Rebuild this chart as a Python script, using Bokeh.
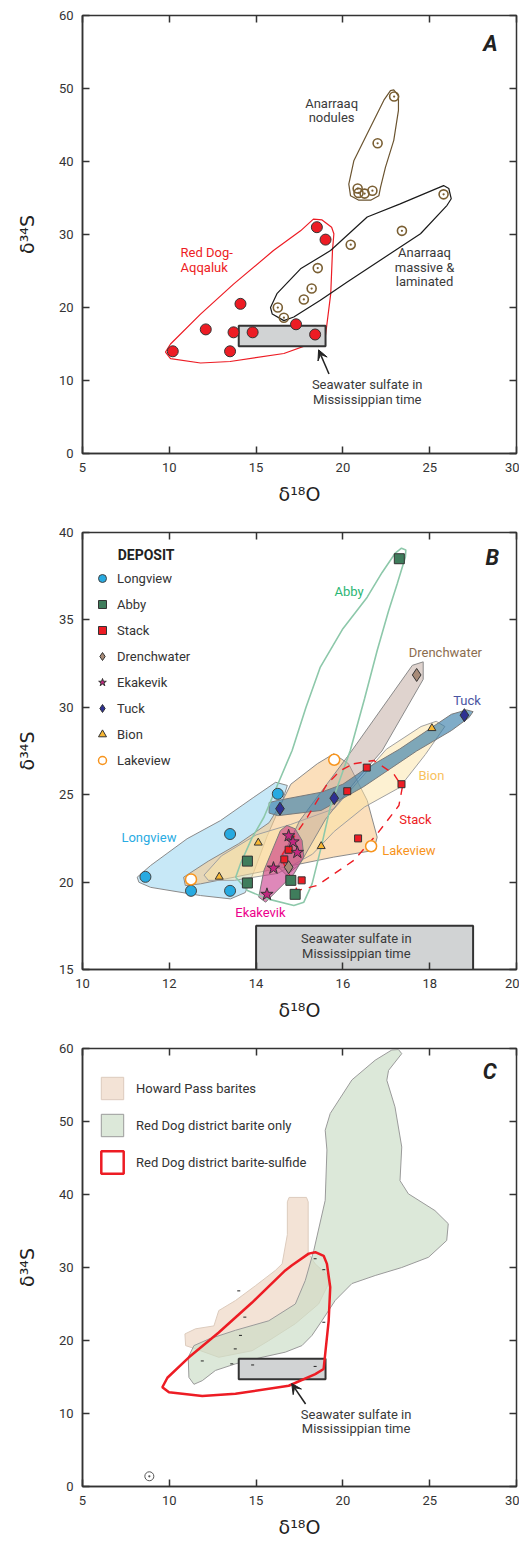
from bokeh.plotting import figure
from bokeh.layouts import column
from bokeh.models import Range1d, LinearAxis, Legend, LegendItem, Arrow, VeeHead
from bokeh.core.properties import value
from bokeh.embed import file_html
from bokeh.resources import INLINE

# ---------------- Panel A data ----------------
reddog_x = [10.2, 12.1, 13.5, 13.7, 14.1, 14.8, 17.3, 18.4, 18.5, 19.0]
reddog_y = [14.0, 17.0, 14.0, 16.6, 20.5, 16.6, 17.7, 16.3, 31.0, 29.3]
nodules_x = [22.95, 22.0, 20.85, 20.9, 21.25, 21.7]
nodules_y = [48.9, 42.5, 36.3, 35.7, 35.6, 36.0]
massive_x = [25.8, 23.4, 20.45, 18.55, 18.2, 17.75, 16.25, 16.6]
massive_y = [35.5, 30.5, 28.6, 25.4, 22.6, 21.1, 20.0, 18.6]
seawater_x = [14.0, 19.0]
seawater_y = [14.7, 17.5]

reddog_env_x = [18.8, 19.35, 19.48, 19.4, 19.3, 19.0, 18.7, 16.6, 13.5, 11.8, 10.07, 9.78, 10.07, 11.8, 13.7, 16.0, 17.56, 18.3]
reddog_env_y = [32.0, 31.0, 30.1, 27.8, 21.9, 16.2, 15.5, 13.7, 12.6, 12.4, 13.0, 13.9, 15.0, 19.1, 23.2, 27.8, 30.5, 32.1]
massive_env_x = [15.83, 16.2, 17.56, 19.29, 21.4, 23.3, 25.8, 26.1, 26.24, 26.0, 24.47, 20.25, 18.7, 17.17, 16.6, 15.93]
massive_env_y = [20.0, 21.9, 25.3, 27.8, 32.4, 34.2, 36.7, 36.3, 34.9, 34.0, 30.1, 23.5, 21.0, 18.7, 18.2, 19.1]
nodules_env_x = [22.93, 23.2, 23.2, 22.93, 22.45, 22.17, 22.07, 21.6, 20.92, 20.44, 20.34, 20.63, 21.4, 22.36, 22.74]
nodules_env_y = [49.8, 49.0, 47.0, 42.9, 39.2, 36.5, 35.3, 34.7, 34.7, 35.3, 36.9, 40.1, 43.8, 48.4, 49.7]

# ---------------- Panel B data ----------------
deposits = ["Longview", "Abby", "Stack", "Drenchwater", "Ekakevik", "Tuck", "Bion", "Lakeview"]
longview_x = [11.45, 12.5, 13.4, 13.4, 14.5]
longview_y = [20.3, 19.5, 19.5, 22.75, 25.05]
abby_x = [17.3, 13.8, 13.8, 14.8, 14.9]
abby_y = [38.5, 21.2, 19.95, 20.1, 19.3]
stack_x = [16.55, 16.1, 17.35, 16.35, 15.05, 14.75, 14.65]
stack_y = [26.55, 25.2, 25.6, 22.5, 20.1, 21.85, 21.3]
drench_x = [17.7, 14.75]
drench_y = [31.85, 20.85]
ekak_x = [14.75, 14.95, 14.4, 14.25, 14.85]
ekak_y = [22.65, 21.7, 20.8, 19.3, 22.3]
tuck_x = [18.8, 14.55, 15.8]
tuck_y = [29.55, 24.2, 24.8]
bion_x = [18.05, 14.05, 13.15, 15.5]
bion_y = [28.8, 22.25, 20.3, 22.05]
lake_x = [15.8, 12.5, 16.65]
lake_y = [27.0, 20.15, 22.05]

longview_env_x = [11.26, 11.57, 12.41, 13.18, 13.95, 14.45, 14.72, 14.6, 14.25, 13.95, 13.75, 13.41, 12.72, 11.57, 11.3]
longview_env_y = [20.28, 20.95, 22.48, 23.52, 24.86, 25.71, 25.53, 24.6, 22.6, 20.6, 19.4, 19.04, 19.23, 19.7, 19.99]
lake_env_x = [15.79, 16.13, 16.56, 16.79, 16.71, 15.79, 14.26, 12.72, 12.37, 12.33, 12.9, 13.6, 14.3, 14.6, 14.8, 15.41]
lake_env_y = [27.34, 26.77, 24.67, 22.57, 21.81, 21.43, 20.66, 19.9, 19.8, 20.28, 21.2, 22.2, 23.4, 24.6, 25.6, 26.77]
bion_env_x = [12.8, 13.2, 14.0, 14.8, 15.8, 17.0, 17.8, 18.15, 18.35, 17.9, 17.3, 16.5, 15.8, 15.3, 14.5, 13.5, 12.9]
bion_env_y = [20.4, 21.5, 22.7, 23.3, 24.2, 27.6, 28.9, 29.2, 28.9, 27.3, 25.4, 24.3, 22.9, 21.6, 20.5, 20.1, 20.1]
drench_env_x = [17.85, 17.85, 16.9, 16.3, 15.6, 15.0, 14.7, 14.5, 15.0, 16.2, 17.6]
drench_env_y = [32.6, 31.6, 27.5, 25.8, 23.6, 21.0, 20.4, 20.9, 23.5, 27.5, 32.4]
tuck_env_x = [14.3, 14.5, 15.5, 16.0, 16.46, 17.3, 18.5, 18.85, 19.0, 18.9, 18.5, 17.7, 16.46, 15.5, 14.5, 14.3]
tuck_env_y = [24.55, 24.67, 25.14, 25.6, 26.38, 27.6, 29.6, 29.85, 29.75, 29.4, 28.67, 27.5, 25.43, 24.1, 23.8, 23.95]
ekak_env_x = [14.71, 14.9, 15.06, 15.1, 14.87, 14.41, 14.22, 14.06, 14.18, 14.37, 14.56]
ekak_env_y = [23.24, 23.05, 22.38, 21.43, 20.47, 19.33, 18.85, 19.14, 20.66, 21.81, 22.95]
abby_env_x = [17.45, 17.35, 17.2, 16.9, 16.56, 16.0, 15.48, 15.15, 14.83, 14.5, 14.18, 13.9, 13.64, 13.53, 13.8, 14.26, 14.87, 15.1, 15.29, 15.5, 15.71, 15.95, 16.17, 16.5, 16.79, 17.05, 17.25, 17.44]
abby_env_y = [39.0, 39.1, 38.8, 37.7, 36.3, 34.5, 32.3, 30.0, 27.53, 25.6, 23.71, 22.5, 21.05, 20.28, 19.52, 19.04, 18.66, 18.85, 19.9, 22.0, 24.29, 26.0, 27.53, 30.5, 33.25, 35.5, 37.06, 38.6]
stack_env_x = [16.25, 16.71, 17.17, 17.37, 17.29, 16.79, 16.25, 15.41, 14.95, 14.56, 15.18, 15.64, 15.94, 16.25]
stack_env_y = [26.77, 26.96, 26.19, 25.43, 24.38, 22.76, 21.24, 19.81, 19.52, 21.43, 23.71, 25.62, 26.38, 26.77]

# ---------------- Panel C data ----------------
howard_env_x = [16.9, 17.9, 18.0, 18.0, 18.4, 19.1, 19.18, 18.6, 17.26, 15.73, 14.77, 12.85, 11.51, 10.94, 10.9, 11.51, 12.57, 12.85, 13.81, 14.96, 16.11, 16.5, 16.8, 16.8]
howard_env_y = [39.6, 39.6, 39.0, 32.0, 30.5, 29.0, 27.8, 25.0, 22.3, 19.98, 18.6, 17.7, 18.85, 19.3, 20.9, 21.6, 22.0, 24.1, 25.47, 27.5, 29.6, 30.5, 34.5, 39.0]
barite_env_x = [23.2, 23.39, 22.63, 22.53, 23.0, 23.39, 23.29, 23.77, 25.3, 26.07, 25.98, 24.93, 23.39, 21.86, 20.52, 19.56, 18.79, 18.22, 17.64, 16.68, 15.34, 13.81, 12.66, 11.9, 11.42, 11.13, 11.09, 11.42, 12.28, 13.81, 15.73, 17.26, 17.83, 18.32, 18.98, 19.08, 18.98, 19.27, 20.52, 21.86, 22.82]
barite_env_y = [59.86, 59.3, 57.0, 55.65, 52.0, 46.5, 41.9, 40.1, 37.8, 36.0, 33.7, 31.4, 30.0, 28.9, 27.8, 25.5, 22.7, 20.7, 19.3, 18.4, 17.7, 16.8, 15.9, 14.5, 14.0, 14.95, 17.7, 19.3, 20.2, 21.4, 22.7, 25.0, 28.2, 32.3, 39.2, 46.1, 48.8, 51.1, 55.7, 58.4, 59.8]
sulfide_env_x = [18.41, 18.89, 19.08, 19.27, 19.18, 18.89, 18.41, 16.88, 13.81, 11.9, 9.98, 9.6, 9.89, 11.13, 12.85, 14.77, 16.68, 17.07, 18.03]
sulfide_env_y = [32.1, 31.6, 30.5, 27.3, 22.7, 16.1, 15.4, 13.8, 12.7, 12.4, 12.9, 13.6, 14.9, 17.7, 21.1, 25.2, 29.6, 30.3, 31.9]
cdots_x = [14.0, 14.35, 14.1, 13.8, 11.9, 13.6, 14.8, 18.4, 18.9, 18.4, 18.9]
cdots_y = [26.8, 23.2, 20.7, 18.85, 17.2, 16.8, 16.65, 16.45, 22.5, 31.2, 29.7]
ref_x = [8.85]
ref_y = [1.4]

xt_wide = [5, 10, 15, 20, 25, 30]
yt_wide = [0, 10, 20, 30, 40, 50, 60]
xt_b = [10, 12, 14, 16, 18, 20]
yt_b = [15, 20, 25, 30, 35, 40]

FONT = "Roboto"
AX = "#333333"
TXT = "#3a3a3a"
RED = "#ed1c24"


def base(x0, x1, y0, y1, xt, yt, h, mt, mb):
    p = figure(width=519, height=h, x_range=Range1d(x0, x1), y_range=Range1d(y0, y1),
               output_backend="svg", toolbar_location=None,
               min_border_left=82, min_border_right=3, min_border_top=mt, min_border_bottom=mb)
    p.grid.visible = False
    p.outline_line_color = AX
    p.outline_line_width = 1.5
    p.background_fill_color = "white"
    xa = p.xaxis[0]
    ya = p.yaxis[0]
    xa.ticker = xt
    ya.ticker = yt
    for ax in (xa, ya):
        ax.major_tick_in = 7
        ax.major_tick_out = 0
        ax.minor_tick_line_color = None
        ax.major_tick_line_color = AX
        ax.major_tick_line_width = 1.5
        ax.axis_line_color = AX
        ax.axis_line_width = 1.5
        ax.major_label_text_font = FONT
        ax.major_label_text_font_size = "13px"
        ax.major_label_text_color = "#333333"
        ax.axis_label_text_font = "DejaVu Sans"
        ax.axis_label_text_font_size = "19px"
        ax.axis_label_text_font_style = "normal"
        ax.axis_label_text_color = "#222222"
    xa.axis_label = "δ¹⁸O"
    ya.axis_label = "δ³⁴S"
    xa.major_label_standoff = 9
    xa.axis_label_standoff = 8
    ya.major_label_standoff = 9
    ya.axis_label_standoff = 18
    top = LinearAxis(ticker=xt, major_label_overrides={t: "" for t in xt})
    right = LinearAxis(ticker=yt, major_label_overrides={t: "" for t in yt})
    for ax in (top, right):
        ax.major_tick_in = 7
        ax.major_tick_out = 0
        ax.minor_tick_line_color = None
        ax.major_tick_line_color = AX
        ax.major_tick_line_width = 1.5
        ax.axis_line_color = None
        ax.major_label_standoff = 0
    p.add_layout(top, "above")
    p.add_layout(right, "right")
    return p


def txt(p, x, ys, lines, color, align="center", size="13px", style="normal"):
    p.text(x=[x] * len(lines), y=ys, text=lines, text_color=color, text_align=align,
           text_baseline="middle", text_font=value(FONT), text_font_size=value(size),
           text_font_style=style)


# ================= Panel A =================
pa = base(5, 30, 0, 60, xt_wide, yt_wide, 525, 15, 72)
pa.patch(reddog_env_x, reddog_env_y, fill_color=None, line_color=RED, line_width=1.2)
pa.patch(massive_env_x, massive_env_y, fill_color=None, line_color="#1a1a1a", line_width=1.2)
pa.patch(nodules_env_x, nodules_env_y, fill_color=None, line_color="#6b5430", line_width=1.2)
pa.quad(left=[seawater_x[0]], right=[seawater_x[1]], bottom=[seawater_y[0]], top=[seawater_y[1]],
        fill_color="#d1d3d4", line_color="#333333", line_width=2)
pa.scatter(reddog_x, reddog_y, marker="circle", size=11, fill_color=RED, line_color="#333333", line_width=1)
pa.scatter(nodules_x, nodules_y, marker="circle_dot", size=9, fill_color=None, line_color="#7a5f33", line_width=1.6)
pa.scatter(massive_x, massive_y, marker="circle_dot", size=9, fill_color=None, line_color="#7a5f33", line_width=1.6)
pa.add_layout(Arrow(end=VeeHead(size=10, fill_color="#222222", line_color="#222222"),
                    x_start=19.2, y_start=10.9, x_end=18.6, y_end=14.2,
                    line_color="#222222", line_width=1.5))
txt(pa, 19.35, [47.9, 46.0], ["Anarraaq", "nodules"], TXT)
txt(pa, 10.65, [27.5, 25.5], ["Red Dog-", "Aqqaluk"], RED, align="left")
txt(pa, 24.7, [27.5, 25.5, 23.6], ["Anarraaq", "massive &", "laminated"], TXT)
txt(pa, 21.4, [9.4, 7.4], ["Seawater sulfate in", "Mississippian time"], TXT)
txt(pa, 28.5, [56.2], ["A"], "#222222", size="22px", style="bold italic")

# ================= Panel B =================
pb = base(10, 20, 15, 40, xt_b, yt_b, 516, 7, 72)
pb.patch(longview_env_x, longview_env_y, fill_color="#a9dcf2", fill_alpha=0.65, line_color="#8a8a8a", line_width=1)
pb.patch(lake_env_x, lake_env_y, fill_color="#f8c98d", fill_alpha=0.6, line_color="#8a8a8a", line_width=1)
pb.patch(bion_env_x, bion_env_y, fill_color="#fbe3a6", fill_alpha=0.5, line_color="#a0a0a0", line_width=1)
pb.patch(drench_env_x, drench_env_y, fill_color="#c0a89d", fill_alpha=0.5, line_color="#8a8a8a", line_width=1)
pb.patch(tuck_env_x, tuck_env_y, fill_color="#3a7fab", fill_alpha=0.65, line_color="#7a7a7a", line_width=1)
pb.patch(ekak_env_x, ekak_env_y, fill_color="#c2277f", fill_alpha=0.55, line_color="#7a7a7a", line_width=1)
pb.patch(abby_env_x, abby_env_y, fill_color=None, line_color="#8dc8aa", line_width=1.6)
pb.patch(stack_env_x, stack_env_y, fill_color=None, line_color=RED, line_width=1.4, line_dash="8 7")
pb.quad(left=[seawater_x[0]], right=[seawater_x[1]], bottom=[seawater_y[0]], top=[seawater_y[1]],
        fill_color="#d1d3d4", line_color="#333333", line_width=2)

rl = pb.scatter(longview_x, longview_y, marker="circle", size=11, fill_color="#27aae1", line_color="#444444", line_width=1)
ra = pb.scatter(abby_x, abby_y, marker="square", size=10, fill_color="#3f7d5c", line_color="#333333", line_width=1)
rs = pb.scatter(stack_x, stack_y, marker="square", size=7, fill_color=RED, line_color="#333333", line_width=1)
rd = pb.scatter(drench_x, drench_y, marker="diamond", size=13, fill_color="#a88b78", line_color="#333333", line_width=1)
re = pb.scatter(ekak_x, ekak_y, marker="star", size=13, fill_color="#c2277f", line_color="#333333", line_width=1)
rt = pb.scatter(tuck_x, tuck_y, marker="diamond", size=13, fill_color="#2e3192", line_color="#333333", line_width=1)
rb = pb.scatter(bion_x, bion_y, marker="triangle", size=8, fill_color="#f7b733", line_color="#333333", line_width=1)
rk = pb.scatter(lake_x, lake_y, marker="circle", size=11, fill_color="white", line_color="#f7941d", line_width=1.5)
leg_b = Legend(items=[LegendItem(label=n, renderers=[r]) for n, r in zip(deposits, [rl, ra, rs, rd, re, rt, rb, rk])],
               location=(10, 199), border_line_color=None, background_fill_alpha=0, padding=0, margin=0,
               spacing=6, glyph_height=20, glyph_width=20, label_height=20, label_standoff=5,
               label_text_font=FONT, label_text_font_size="13px", label_text_color="#333333")
pb.add_layout(leg_b)
txt(pb, 10.81, [38.74], ["DEPOSIT"], "#222222", align="left", size="14px", style="bold")
txt(pb, 16.14, [36.64], ["Abby"], "#2bb673")
txt(pb, 18.36, [33.15], ["Drenchwater"], "#8c6d4f")
txt(pb, 18.86, [30.39], ["Tuck"], "#4a55a2")
txt(pb, 18.04, [26.1], ["Bion"], "#f8c15c")
txt(pb, 17.67, [23.58], ["Stack"], RED)
txt(pb, 17.52, [21.81], ["Lakeview"], "#f7941d")
txt(pb, 11.53, [22.53], ["Longview"], "#29abe2")
txt(pb, 14.1, [18.28], ["Ekakevik"], "#ec008c")
txt(pb, 16.31, [16.75, 15.93], ["Seawater sulfate in", "Mississippian time"], TXT)
txt(pb, 19.44, [38.59], ["B"], "#222222", size="22px", style="bold italic")

# ================= Panel C =================
pc = base(5, 30, 0, 60, xt_wide, yt_wide, 500, 7, 55)
r1 = pc.patch(howard_env_x, howard_env_y, fill_color="#f3e3d6", fill_alpha=1, line_color="#dccbbd", line_width=1)
r2 = pc.patch(barite_env_x, barite_env_y, fill_color="#c9dbc4", fill_alpha=0.65, line_color="#9a9a9a", line_width=1)
pc.quad(left=[seawater_x[0]], right=[seawater_x[1]], bottom=[seawater_y[0]], top=[seawater_y[1]],
        fill_color="#d1d3d4", line_color="#333333", line_width=2)
pc.scatter(cdots_x, cdots_y, marker="dash", size=3, line_color="#222222", line_width=1)
pc.scatter(ref_x, ref_y, marker="circle_dot", size=9, fill_color=None, line_color="#555555", line_width=1)
r3 = pc.patch(sulfide_env_x, sulfide_env_y, fill_color=None, line_color=RED, line_width=2.5)
pc.add_layout(Arrow(end=VeeHead(size=10, fill_color="#222222", line_color="#222222"),
                    x_start=17.85, y_start=11.3, x_end=17.05, y_end=14.1,
                    line_color="#222222", line_width=1.5))
leg_c = Legend(items=[LegendItem(label="Howard Pass barites", renderers=[r1]),
                      LegendItem(label="Red Dog district barite only", renderers=[r2]),
                      LegendItem(label="Red Dog district barite-sulfide", renderers=[r3])],
               location=(16, 310), border_line_color=None, background_fill_alpha=0, padding=0, margin=0,
               spacing=9, glyph_height=28, glyph_width=28, label_height=28, label_standoff=10,
               label_text_font=FONT, label_text_font_size="13px", label_text_color="#333333")
pc.add_layout(leg_c)
txt(pc, 20.76, [9.93, 7.96], ["Seawater sulfate in", "Mississippian time"], TXT)
txt(pc, 28.46, [56.8], ["C"], "#222222", size="22px", style="bold italic")

layout = column(pa, pb, pc)
open("out.html", "w").write(file_html(layout, INLINE))
